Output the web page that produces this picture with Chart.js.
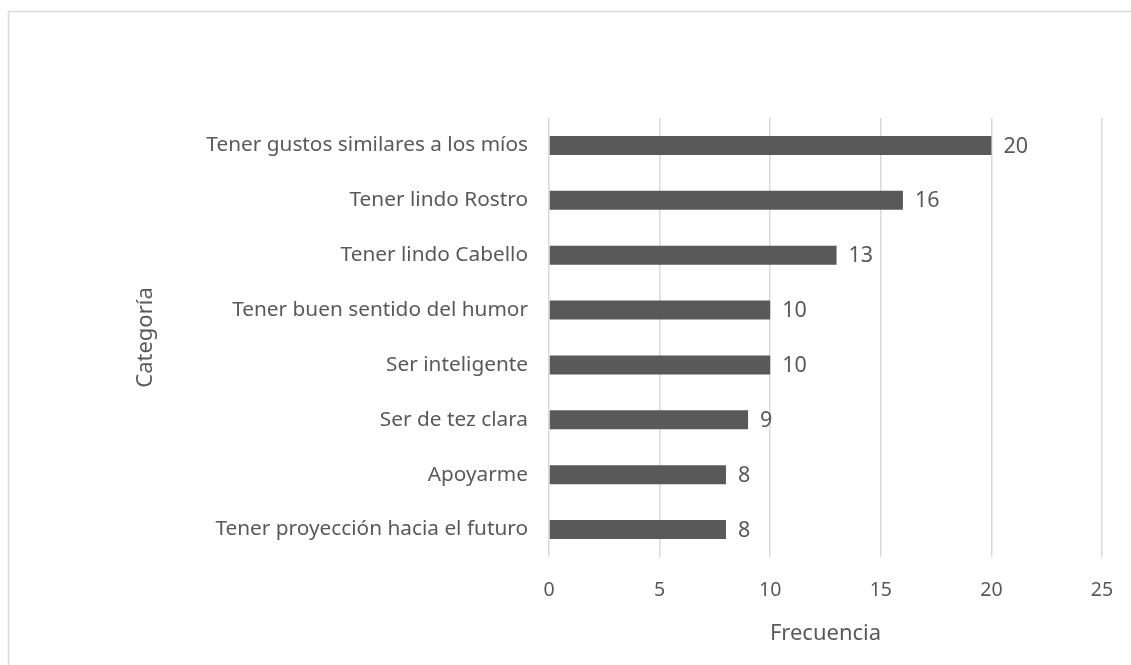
<!DOCTYPE html>
<html>
<head>
<meta charset="utf-8">
<script src="https://cdn.jsdelivr.net/npm/chart.js@4"></script>
<style>
  html, body { margin: 0; padding: 0; background: #ffffff; }
  #wrap { width: 1131px; height: 665px; position: relative; }
</style>
</head>
<body>
<div id="wrap"><canvas id="c" width="1131" height="665"></canvas></div>
<script>
const categories = [
  "Tener gustos similares a los míos",
  "Tener lindo Rostro",
  "Tener lindo Cabello",
  "Tener buen sentido del humor",
  "Ser inteligente",
  "Ser de tez clara",
  "Apoyarme",
  "Tener proyección hacia el futuro"
];
const frecuencia = [20, 16, 13, 10, 10, 9, 8, 8];
const xTicks = [0, 5, 10, 15, 20, 25];
const xTitle = "Frecuencia";
const yTitle = "Categoría";

const TEXT = "#595959";
const GRID = "#d9d9d9";
const FONT = "'Noto Sans', 'Open Sans', sans-serif";

const frame = {
  id: "frame",
  beforeDraw(chart) {
    const ctx = chart.ctx;
    ctx.save();
    ctx.strokeStyle = GRID;
    ctx.lineWidth = 1.5;
    ctx.beginPath();
    ctx.moveTo(8.5, 700);
    ctx.lineTo(8.5, 11.5);
    ctx.lineTo(1140, 11.5);
    ctx.stroke();
    ctx.restore();
  }
};

const valueLabels = {
  id: "valueLabels",
  afterDatasetsDraw(chart) {
    const ctx = chart.ctx;
    const meta = chart.getDatasetMeta(0);
    ctx.save();
    ctx.fillStyle = TEXT;
    ctx.font = "21.5px " + FONT;
    ctx.textAlign = "left";
    ctx.textBaseline = "middle";
    meta.data.forEach((bar, i) => {
      ctx.fillText(String(chart.data.datasets[0].data[i]), bar.x + 12, bar.y + 1);
    });
    ctx.restore();
  }
};

new Chart(document.getElementById("c"), {
  type: "bar",
  data: {
    labels: categories,
    datasets: [{
      data: frecuencia,
      backgroundColor: "#595959",
      borderWidth: 0,
      categoryPercentage: 1,
      barPercentage: 0.345
    }]
  },
  plugins: [frame, valueLabels],
  options: {
    indexAxis: "y",
    responsive: false,
    animation: false,
    events: [],
    layout: { padding: { left: 133, top: 118, right: 29, bottom: 0 } },
    plugins: { legend: { display: false }, tooltip: { enabled: false } },
    scales: {
      x: {
        type: "linear",
        min: 0,
        max: 25,
        afterBuildTicks(scale) { scale.ticks = xTicks.map(v => ({ value: v })); },
        afterFit(scale) { scale.height = 108; },
        grid: { color: GRID, lineWidth: 1.5, drawTicks: true, tickLength: 22, tickColor: "rgba(0,0,0,0)" },
        border: { display: false },
        ticks: { color: TEXT, font: { family: FONT, size: 19.5 }, padding: 0 },
        title: {
          display: true,
          text: xTitle,
          color: TEXT,
          font: { family: FONT, size: 22 },
          padding: { top: 0, bottom: 18 }
        }
      },
      y: {
        afterFit(scale) { scale.width = 549 - 133; },
        grid: { display: false, drawTicks: false },
        border: { display: false },
        ticks: { color: TEXT, font: { family: FONT, size: 20.8 }, padding: 21, autoSkip: false },
        title: {
          display: true,
          text: yTitle,
          color: TEXT,
          font: { family: FONT, size: 22 },
          padding: { top: 0, bottom: 0 }
        }
      }
    }
  }
});
</script>
</body>
</html>
